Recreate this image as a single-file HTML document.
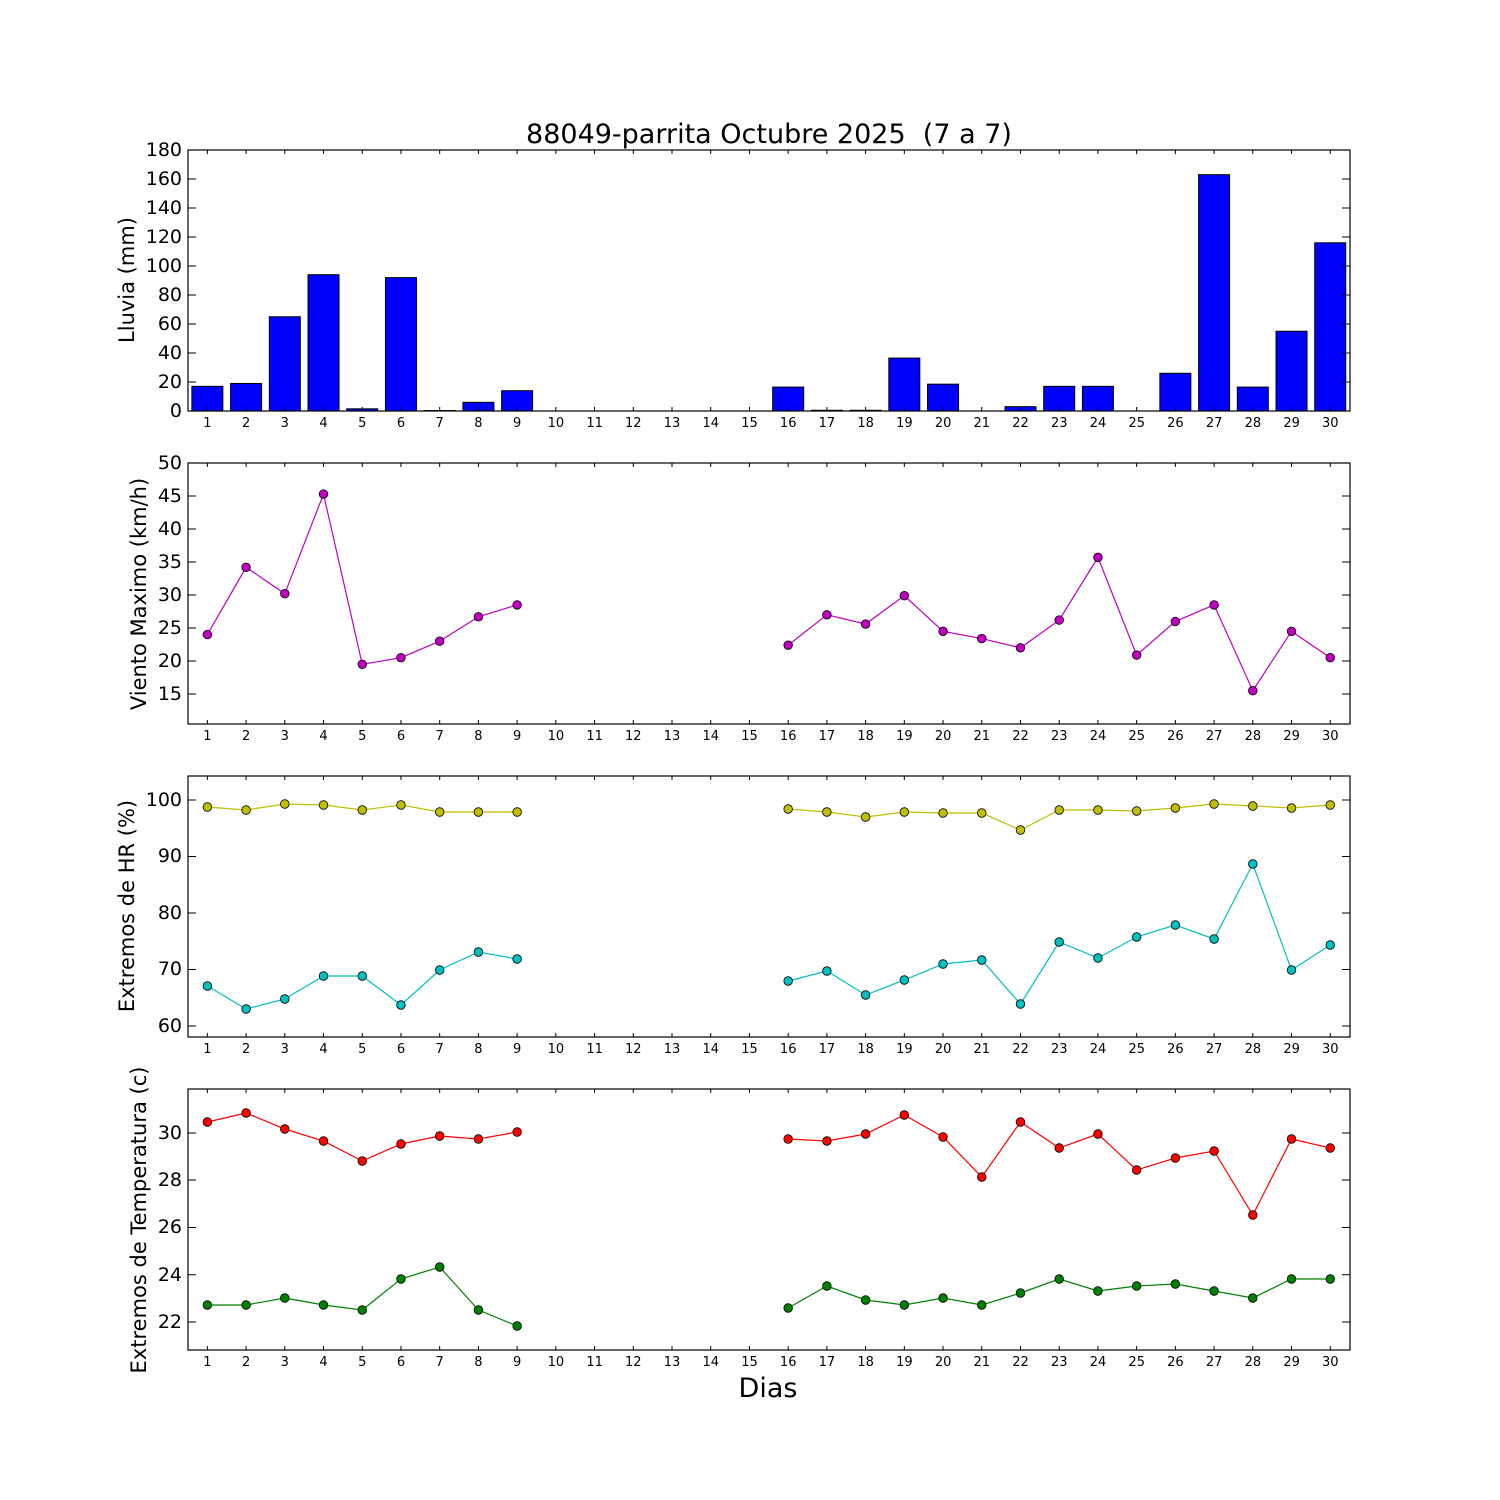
<!DOCTYPE html>
<html><head><meta charset="utf-8"><style>
html,body{margin:0;padding:0;background:#fff}
svg{display:block;font-family:"DejaVu Sans","Liberation Sans",sans-serif}
</style></head><body>
<svg id="s" width="1500" height="1500" viewBox="0 0 1500 1500" xmlns="http://www.w3.org/2000/svg">
<rect width="1500" height="1500" fill="#fff"/>
<g id="shapes"></g>
<g font-size="27" text-anchor="middle">
<text x="769" y="143" style="white-space:pre" xml:space="preserve">88049-parrita Octubre 2025  (7 a 7)</text>
<text x="768" y="1397">Dias</text>
</g>
<g font-size="21" text-anchor="middle">
<text transform="translate(134,280) rotate(-90)">Lluvia (mm)</text>
<text transform="translate(146,594) rotate(-90)">Viento Maximo (km/h)</text>
<text transform="translate(134,906) rotate(-90)">Extremos de HR (%)</text>
<text transform="translate(146,1220) rotate(-90)">Extremos de Temperatura (c)</text>
</g>
<g font-size="19" text-anchor="end">
<text x="182" y="417">0</text><text x="182" y="388">20</text><text x="182" y="359">40</text><text x="182" y="330">60</text><text x="182" y="301">80</text><text x="182" y="272">100</text><text x="182" y="243">120</text><text x="182" y="214">140</text><text x="182" y="185">160</text><text x="182" y="156">180</text>
<text x="182" y="700">15</text><text x="182" y="667">20</text><text x="182" y="634">25</text><text x="182" y="601">30</text><text x="182" y="568">35</text><text x="182" y="535">40</text><text x="182" y="502">45</text><text x="182" y="469">50</text>
<text x="182" y="1032">60</text><text x="182" y="975">70</text><text x="182" y="919">80</text><text x="182" y="862">90</text><text x="182" y="806">100</text>
<text x="182" y="1328">22</text><text x="182" y="1281">24</text><text x="182" y="1233">26</text><text x="182" y="1186">28</text><text x="182" y="1139">30</text>
</g>
<g font-size="13" text-anchor="middle">
<text y="427"><tspan x="207.4">1</tspan><tspan x="246.1">2</tspan><tspan x="284.8">3</tspan><tspan x="323.5">4</tspan><tspan x="362.3">5</tspan><tspan x="401">6</tspan><tspan x="439.7">7</tspan><tspan x="478.4">8</tspan><tspan x="517.2">9</tspan><tspan x="555.9">10</tspan><tspan x="594.6">11</tspan><tspan x="633.3">12</tspan><tspan x="672">13</tspan><tspan x="710.8">14</tspan><tspan x="749.5">15</tspan><tspan x="788.2">16</tspan><tspan x="826.9">17</tspan><tspan x="865.6">18</tspan><tspan x="904.4">19</tspan><tspan x="943.1">20</tspan><tspan x="981.8">21</tspan><tspan x="1020.5">22</tspan><tspan x="1059.3">23</tspan><tspan x="1098">24</tspan><tspan x="1136.7">25</tspan><tspan x="1175.4">26</tspan><tspan x="1214.1">27</tspan><tspan x="1252.9">28</tspan><tspan x="1291.6">29</tspan><tspan x="1330.3">30</tspan></text>
<text y="740"><tspan x="207.4">1</tspan><tspan x="246.1">2</tspan><tspan x="284.8">3</tspan><tspan x="323.5">4</tspan><tspan x="362.3">5</tspan><tspan x="401">6</tspan><tspan x="439.7">7</tspan><tspan x="478.4">8</tspan><tspan x="517.2">9</tspan><tspan x="555.9">10</tspan><tspan x="594.6">11</tspan><tspan x="633.3">12</tspan><tspan x="672">13</tspan><tspan x="710.8">14</tspan><tspan x="749.5">15</tspan><tspan x="788.2">16</tspan><tspan x="826.9">17</tspan><tspan x="865.6">18</tspan><tspan x="904.4">19</tspan><tspan x="943.1">20</tspan><tspan x="981.8">21</tspan><tspan x="1020.5">22</tspan><tspan x="1059.3">23</tspan><tspan x="1098">24</tspan><tspan x="1136.7">25</tspan><tspan x="1175.4">26</tspan><tspan x="1214.1">27</tspan><tspan x="1252.9">28</tspan><tspan x="1291.6">29</tspan><tspan x="1330.3">30</tspan></text>
<text y="1053"><tspan x="207.4">1</tspan><tspan x="246.1">2</tspan><tspan x="284.8">3</tspan><tspan x="323.5">4</tspan><tspan x="362.3">5</tspan><tspan x="401">6</tspan><tspan x="439.7">7</tspan><tspan x="478.4">8</tspan><tspan x="517.2">9</tspan><tspan x="555.9">10</tspan><tspan x="594.6">11</tspan><tspan x="633.3">12</tspan><tspan x="672">13</tspan><tspan x="710.8">14</tspan><tspan x="749.5">15</tspan><tspan x="788.2">16</tspan><tspan x="826.9">17</tspan><tspan x="865.6">18</tspan><tspan x="904.4">19</tspan><tspan x="943.1">20</tspan><tspan x="981.8">21</tspan><tspan x="1020.5">22</tspan><tspan x="1059.3">23</tspan><tspan x="1098">24</tspan><tspan x="1136.7">25</tspan><tspan x="1175.4">26</tspan><tspan x="1214.1">27</tspan><tspan x="1252.9">28</tspan><tspan x="1291.6">29</tspan><tspan x="1330.3">30</tspan></text>
<text y="1366"><tspan x="207.4">1</tspan><tspan x="246.1">2</tspan><tspan x="284.8">3</tspan><tspan x="323.5">4</tspan><tspan x="362.3">5</tspan><tspan x="401">6</tspan><tspan x="439.7">7</tspan><tspan x="478.4">8</tspan><tspan x="517.2">9</tspan><tspan x="555.9">10</tspan><tspan x="594.6">11</tspan><tspan x="633.3">12</tspan><tspan x="672">13</tspan><tspan x="710.8">14</tspan><tspan x="749.5">15</tspan><tspan x="788.2">16</tspan><tspan x="826.9">17</tspan><tspan x="865.6">18</tspan><tspan x="904.4">19</tspan><tspan x="943.1">20</tspan><tspan x="981.8">21</tspan><tspan x="1020.5">22</tspan><tspan x="1059.3">23</tspan><tspan x="1098">24</tspan><tspan x="1136.7">25</tspan><tspan x="1175.4">26</tspan><tspan x="1214.1">27</tspan><tspan x="1252.9">28</tspan><tspan x="1291.6">29</tspan><tspan x="1330.3">30</tspan></text>
</g>
</svg>
<script>
(function(){
var g=document.getElementById("shapes"),h="";
function X(d){return 188+(d-0.5)*38.72;}
var L=188,R=1350,panels=[[150,411],[463,724],[776,1037],[1089,1350]];
var rain={1:17,2:19,3:65,4:94,5:1.5,6:92,7:0.3,8:6,9:14,16:16.5,17:0.5,18:0.5,19:36.5,20:18.5,22:3,23:17,24:17,26:26,27:163,28:16.5,29:55,30:116};
for(var d in rain){var v=rain[d],y=411-v*1.45;h+='<rect x="'+(X(+d)-15.5)+'" y="'+y+'" width="31" height="'+(411-y)+'" fill="#0000ff" stroke="#000" stroke-width="1"/>';}
function series(vals,col){
 var days=[1,2,3,4,5,6,7,8,9,16,17,18,19,20,21,22,23,24,25,26,27,28,29,30];
 var a=[],b=[];
 for(var i=0;i<24;i++){(i<9?a:b).push(X(days[i])+","+vals[i]);}
 h+='<polyline points="'+a.join(" ")+'" fill="none" stroke="'+col+'" stroke-width="1.2"/>';
 h+='<polyline points="'+b.join(" ")+'" fill="none" stroke="'+col+'" stroke-width="1.2"/>';
 for(i=0;i<24;i++)h+='<circle cx="'+X(days[i])+'" cy="'+vals[i]+'" r="4.3" fill="'+col+'" stroke="#000" stroke-width="0.8"/>';
}
var w=[24,34.2,30.2,45.3,19.5,20.5,23,26.7,28.5,22.4,27,25.6,29.9,24.5,23.4,22,26.2,35.7,20.9,26,28.5,15.5,24.5,20.5].map(function(v){return 463+(50-v)*6.6;});
series(w,"#bf00bf");
series([807,810,804,805,810,805,812,812,812,809,812,817,812,813,813,830,810,810,811,808,804,806,808,805],"#bfbf00");
series([986,1009,999,976,976,1005,970,952,959,981,971,995,980,964,960,1004,942,958,937,925,939,864,970,945],"#00bfbf");
series([1122,1113,1129,1141,1161,1144,1136,1139,1132,1139,1141,1134,1115,1137,1177,1122,1148,1134,1170,1158,1151,1215,1139,1148],"#ff0000");
series([1305,1305,1298,1305,1310,1279,1267,1310,1326,1308,1286,1300,1305,1298,1305,1293,1279,1291,1286,1284,1291,1298,1279,1279],"#008000");
var yt=[[0,20,40,60,80,100,120,140,160,180].map(function(v){return 411-v*1.45;}),
 [15,20,25,30,35,40,45,50].map(function(v){return 463+(50-v)*6.6;}),
 [800,856.5,913,969.5,1026],[1322,1274.75,1227.5,1180,1133]];
panels.forEach(function(p,k){
 var t=p[0],b=p[1];
 for(var d=1;d<=30;d++){var x=X(d);h+='<line x1="'+x+'" y1="'+b+'" x2="'+x+'" y2="'+(b-4)+'" stroke="#000"/><line x1="'+x+'" y1="'+t+'" x2="'+x+'" y2="'+(t+4)+'" stroke="#000"/>';}
 yt[k].forEach(function(y){h+='<line x1="'+L+'" y1="'+y+'" x2="'+(L+8)+'" y2="'+y+'" stroke="#000"/><line x1="'+R+'" y1="'+y+'" x2="'+(R-8)+'" y2="'+y+'" stroke="#000"/>';});
 h+='<rect x="'+L+'" y="'+t+'" width="'+(R-L)+'" height="'+(b-t)+'" fill="none" stroke="#000" stroke-width="1.2"/>';
});
g.innerHTML=h;
})();
</script>
</body></html>
